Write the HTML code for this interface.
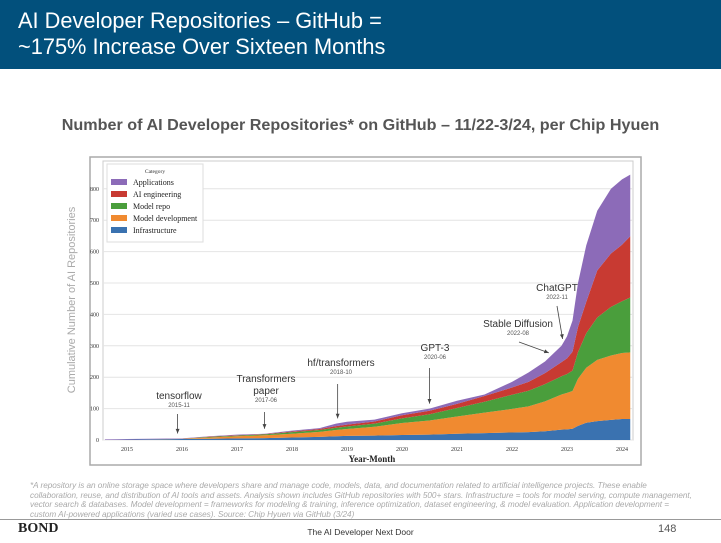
<!DOCTYPE html>
<html><head><meta charset="utf-8"><style>
body{margin:0;width:721px;height:543px;background:#fff;position:relative;overflow:hidden;font-family:"Liberation Sans",sans-serif}
#hdr{position:absolute;left:0;top:0;width:721px;height:69px;background:#02507c}
#hdr div{position:absolute;left:18px;color:#fff;font-size:22px;white-space:nowrap;transform-origin:0 0;transform:scaleX(0.99)}
#sub{position:absolute;left:0;width:721px;top:117px;text-align:center;font-weight:bold;font-size:16px;color:#555;transform:scaleX(1.01)}
#note{position:absolute;left:30px;top:481px;font-size:8.2px;font-style:italic;color:#aaa;line-height:9.7px;letter-spacing:-0.03px;white-space:nowrap}
#rule{position:absolute;left:0;top:519px;width:721px;height:1px;background:#999}
#bond{position:absolute;left:18px;top:521px;font-family:"Liberation Serif",serif;font-weight:bold;font-size:14px;color:#222}
#mid{position:absolute;left:0;width:721px;top:527px;text-align:center;font-size:8.5px;color:#333}
#pg{position:absolute;left:658px;top:523px;font-size:11px;color:#555}
#ytitle{position:absolute;left:72px;top:300px;transform:translate(-50%,-50%) rotate(-90deg);font-size:11px;color:#aaa;white-space:nowrap}
</style></head><body>
<div id="hdr">
<div style="top:8px">AI Developer Repositories – GitHub =</div>
<div style="top:34px">~175% Increase Over Sixteen Months</div>
</div>
<div id="sub">Number of AI Developer Repositories* on GitHub – 11/22-3/24, per Chip Hyuen</div>
<div id="ytitle">Cumulative Number of AI Repositories</div>
<svg id="chart" width="721" height="543" style="position:absolute;left:0;top:0"></svg>
<div id="note">*A repository is an online storage space where developers share and manage code, models, data, and documentation related to artificial intelligence projects. These enable<br>collaboration, reuse, and distribution of AI tools and assets. Analysis shown includes GitHub repositories with 500+ stars. Infrastructure = tools for model serving, compute management,<br>vector search &amp; databases. Model development = frameworks for modeling &amp; training, inference optimization, dataset engineering, &amp; model evaluation. Application development =<br>custom AI-powered applications (varied use cases). Source: Chip Hyuen via GitHub (3/24)</div>
<div id="rule"></div>
<div id="bond">BOND</div>
<div id="mid">The AI Developer Next Door</div>
<div id="pg">148</div>
<script>
const dates=[2014.6,2015,2016,2016.5,2017,2017.5,2018,2018.5,2018.8,2019,2019.5,2020,2020.5,2021,2021.5,2022,2022.3,2022.6,2022.9,2023.0,2023.1,2023.2,2023.35,2023.55,2023.8,2024.0,2024.15];
const infra=[0,1,3,4,5,6,8,10,12,13,14,16,17,20,22,24,25,28,33,34,36,45,55,60,64,67,67];
const modelDev=[0,0,1,4,7,9,12,16,20,22,28,38,45,55,65,75,82,95,112,116,120,150,175,195,205,210,212];
const modelRepo=[0,0,0,2,2,3,5,6,7,8,10,15,20,27,35,45,50,55,58,60,65,85,110,135,155,165,175];
const aiEng=[0,0,0,1,1,1,2,3,5,6,7,10,11,13,18,23,28,35,45,50,60,80,100,150,170,180,195];
const apps=[2,2,1,1,2,1,3,3,8,9,6,6,7,10,5,18,30,37,52,70,99,140,180,190,206,208,196];
const seriesNames=["Infrastructure","Model development","Model repo","AI engineering","Applications"];
const yTicks=[0,100,200,300,400,500,600,700,800];
const xTicks=[2015,2016,2017,2018,2019,2020,2021,2022,2023,2024];
const evLabel=["tensorflow","Transformers","hf/transformers","GPT-3","Stable Diffusion","ChatGPT"];
const evLabel2=[null,"paper",null,null,null,null];
const evDate=["2015-11","2017-06","2018-10","2020-06","2022-08","2022-11"];
const evTime=[2015.92,2017.5,2018.83,2020.5,2022.67,2022.92];
const NS="http://www.w3.org/2000/svg";
const svg=document.getElementById('chart');
const X=v=>127+(v-2015)*55.0, Y=v=>440-v*0.314;
function mk(t,a,p){const e=document.createElementNS(NS,t);for(const k in a)e.setAttribute(k,a[k]);(p||svg).appendChild(e);return e;}
const frame=mk('rect',{x:90,y:157,width:551,height:308,fill:'#fff',stroke:'#aaa','stroke-width':1.5});


const pf=mk('rect',{x:103,y:161,width:530,height:279,fill:'#fff',stroke:'#ccc'});


yTicks.forEach(t=>{
 const g=mk('line',{x1:103,x2:633,y1:Y(t),y2:Y(t),stroke:'#e4e4e4'});
 
 
 const l=mk('text',{x:99,y:Y(t)+2,'font-size':6,'text-anchor':'end',fill:'#333','font-family':'Liberation Serif, serif'});l.textContent=t;
 
 
});
xTicks.forEach(t=>{
 const l=mk('text',{x:X(t),y:451,'font-size':6,'text-anchor':'middle',fill:'#333','font-family':'Liberation Serif, serif'});l.textContent=t;
 
 
});
const xt=mk('text',{x:372,y:462,'font-size':9,'text-anchor':'middle',fill:'#222','font-weight':'bold','font-family':'Liberation Serif, serif'});xt.textContent='Year-Month';


const series=[infra,modelDev,modelRepo,aiEng,apps];
const colors=['#3a72b0','#f08a30','#4a9e3c','#c83a32','#8c6bb8'];
let base=dates.map(()=>0);
series.forEach((s,i)=>{
 const top=base.map((b,j)=>b+s[j]);
 let d='M'+dates.map((t,j)=>X(t)+','+Y(top[j])).join('L');
 for(let j=dates.length-1;j>=0;j--)d+='L'+X(dates[j])+','+Y(base[j]);
 const p=mk('path',{d:d+'Z',fill:colors[i]});
 
 
 base=top;
});
const totals=base;
function totalAt(t){for(let j=1;j<dates.length;j++)if(t<=dates[j]){const f=(t-dates[j-1])/(dates[j]-dates[j-1]);return totals[j-1]+f*(totals[j]-totals[j-1]);}return totals[totals.length-1];}
const lg=mk('rect',{x:107,y:164,width:96,height:78,fill:'#fff',stroke:'#ddd'});


const lt=mk('text',{x:155,y:173,'font-size':5.5,'text-anchor':'middle',fill:'#333','font-family':'Liberation Serif, serif'});lt.textContent='Category';


[4,3,2,1,0].forEach((i,k)=>{
 const y=179+k*12;
 const r=mk('rect',{x:111,y:y,width:16,height:6,fill:colors[i]});
 
 
 const tx=mk('text',{x:133,y:y+6,'font-size':8,fill:'#222','font-family':'Liberation Serif, serif'});tx.textContent=seriesNames[i];
 
 
});
const labX=[179,266,341,435,518,557], labY=[399,382,366,351,327,291];
const arrStart=[[179,414],[266,412],[340,384],[435,368],[519,342],[557,306]];
evLabel.forEach((lab,i)=>{
 const cx=labX[i], ty=labY[i];
 const t1=mk('text',{x:cx,y:ty,'font-size':10,'text-anchor':'middle',fill:'#333'});t1.textContent=lab;
 
 
 let dy=8;
 if(evLabel2[i]){const t2=mk('text',{x:cx,y:ty+12,'font-size':10,'text-anchor':'middle',fill:'#333'});t2.textContent=evLabel2[i];dy=20;
  
  }
 const t3=mk('text',{x:cx,y:ty+dy,'font-size':6,'text-anchor':'middle',fill:'#555'});t3.textContent=evDate[i];
 
 
 const ex=X(evTime[i]), ey=Y(totalAt(evTime[i]))-5;
 const sx=i<4?ex:arrStart[i][0], sy=arrStart[i][1];
 const ln=mk('line',{x1:sx,y1:sy,x2:ex,y2:ey,stroke:'#444','stroke-width':0.8});
 
 
 const ang=Math.atan2(ey-sy,ex-sx);
 const hp=[[ex,ey],[ex-5*Math.cos(ang-0.4),ey-5*Math.sin(ang-0.4)],[ex-5*Math.cos(ang+0.4),ey-5*Math.sin(ang+0.4)]];
 const h=mk('polygon',{points:hp.map(p=>p.join(',')).join(' '),fill:'#444'});
 
 
});
</script>
</body></html>
